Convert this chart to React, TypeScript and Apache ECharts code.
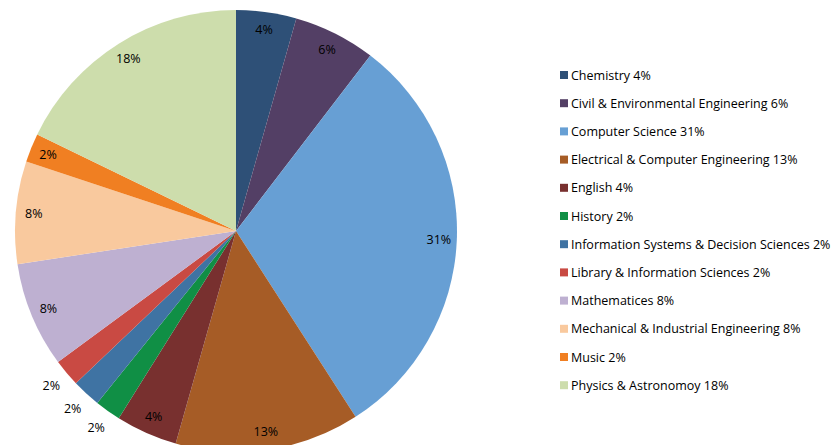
import React, { useEffect, useRef } from "react";
import * as echarts from "echarts";

const categories = [
  "Chemistry",
  "Civil & Environmental Engineering",
  "Computer Science",
  "Electrical & Computer Engineering",
  "English",
  "History",
  "Information Systems & Decision Sciences",
  "Library & Information Sciences",
  "Mathematices",
  "Mechanical & Industrial Engineering",
  "Music",
  "Physics & Astronomoy",
];

// slice shares (percent of the full circle)
const values = [4.4, 6.0, 30.5, 13.5, 4.5, 1.9, 2.1, 2.0, 7.7, 7.5, 2.1, 17.8];
// percentage labels as printed on the chart
const pctLabels = ["4%", "6%", "31%", "13%", "4%", "2%", "2%", "2%", "8%", "8%", "2%", "18%"];
// slices whose label sits just outside the pie
const outsideLabel = [false, false, false, false, false, true, true, true, false, false, false, false];

const colors = [
  "#2E5077",
  "#533F65",
  "#679FD4",
  "#A65C26",
  "#78302F",
  "#108F45",
  "#3F73A3",
  "#C94A43",
  "#BEB0D1",
  "#F9C99E",
  "#F07F22",
  "#CDDDAC",
];

const FONT = "'Open Sans', Lato, sans-serif";

export default function App() {
  const ref = useRef<HTMLDivElement>(null);

  useEffect(() => {
    if (!ref.current) return;
    const chart = echarts.init(ref.current, undefined, { renderer: "svg" });
    const center = [236, 231];
    const R = 221;

    const mainData = categories.map((name, i) => ({
      name,
      value: values[i],
      itemStyle: { color: colors[i] },
    }));

    const labelData = (outside: boolean) =>
      categories.map((name, i) => ({
        name,
        value: values[i],
        label: { show: outsideLabel[i] === outside },
      }));

    const labelSeriesBase = {
      type: "pie",
      center,
      startAngle: 90,
      silent: true,
      legendHoverLink: false,
      itemStyle: { color: "rgba(0,0,0,0)", borderWidth: 0 },
      labelLine: { show: false },
      emphasis: { disabled: true },
      tooltip: { show: false },
    };

    const labelStyle = {
      position: "inside",
      fontFamily: FONT,
      fontSize: 12.5,
      color: "#000",
      formatter: (p: any) => pctLabels[p.dataIndex],
    };

    chart.setOption({
      animation: false,
      color: colors,
      legend: {
        orient: "vertical",
        left: 560,
        top: 68,
        padding: 0,
        itemWidth: 8,
        itemHeight: 8,
        itemGap: 14.2,
        icon: "rect",
        data: categories,
        formatter: (name: string) => {
          const i = categories.indexOf(name);
          return name + " " + pctLabels[i];
        },
        textStyle: {
          fontFamily: FONT,
          fontSize: 12.5,
          color: "#000",
          lineHeight: 14,
          padding: [0, 0, 0, -2],
        },
        selectedMode: false,
      },
      series: [
        {
          name: "Departments",
          type: "pie",
          center,
          radius: [0, R],
          startAngle: 90,
          data: mainData,
          label: { show: false },
          labelLine: { show: false },
          itemStyle: { borderWidth: 0 },
          emphasis: { disabled: true },
        },
        {
          ...labelSeriesBase,
          name: "inner labels",
          radius: [R - 42, R],
          data: labelData(false),
          label: labelStyle,
        },
        {
          ...labelSeriesBase,
          name: "outer labels",
          radius: [R, R + 34],
          data: labelData(true),
          label: labelStyle,
        },
      ],
    });
    return () => chart.dispose();
  }, []);

  return (
    <div
      ref={ref}
      style={{ position: "fixed", left: 0, top: 0, width: 836, height: 445, background: "#fff" }}
    />
  );
}
